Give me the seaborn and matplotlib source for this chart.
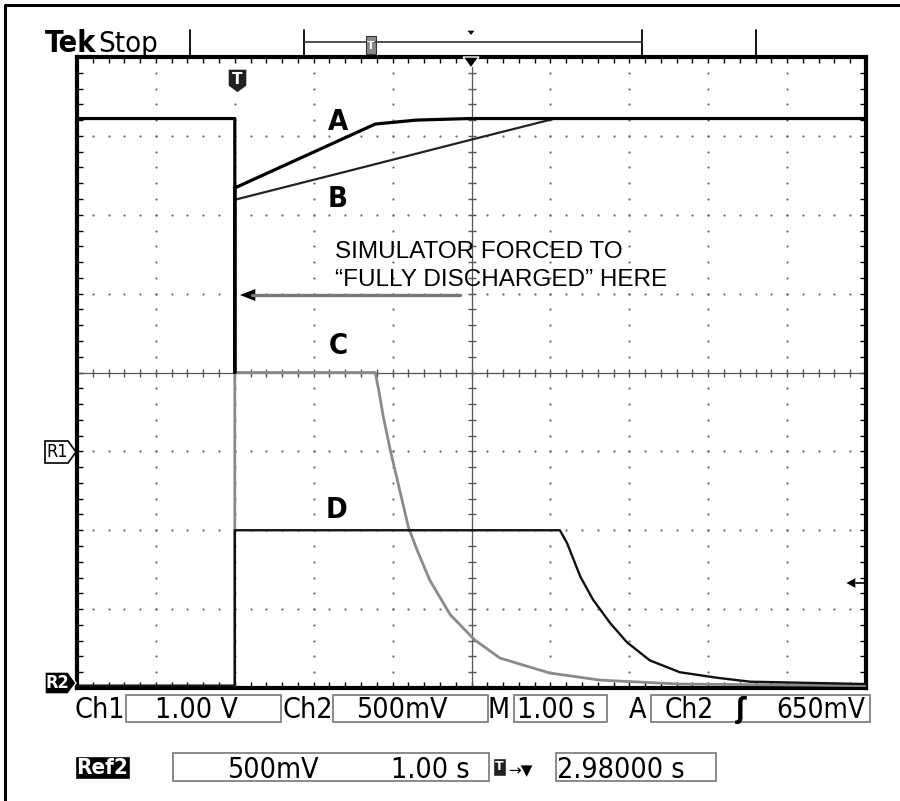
import numpy as np
import pandas as pd
import matplotlib
matplotlib.use("Agg")
import matplotlib.pyplot as plt
import seaborn as sns
from matplotlib.patches import Rectangle, Polygon

# traces, in divisions (10 across, 8 up)
a_x = [0, 2.0, 2.0, 2.0, 3.78, 4.3, 4.98, 10]
a_y = [7.22, 7.22, 4.0, 6.34, 7.15, 7.20, 7.22, 7.22]
b_x = [2.0, 3.5, 4.99, 6.06, 10]
b_y = [6.19, 6.57, 6.95, 7.22, 7.22]
c_x = [2.0, 2.0, 3.78, 3.82, 3.88, 3.97, 4.09, 4.20, 4.31, 4.47, 4.73, 5.04, 5.36, 5.99, 6.63, 7.64, 10]
c_y = [0.03, 4.0, 4.0, 3.80, 3.45, 3.02, 2.51, 2.04, 1.75, 1.37, 0.93, 0.61, 0.38, 0.19, 0.10, 0.05, 0.03]
d_x = [0, 2.0, 2.0, 6.12, 6.21, 6.38, 6.54, 6.76, 6.97, 7.26, 7.64, 8.11, 8.53, 10]
d_y = [0.03, 0.03, 2.0, 2.0, 1.84, 1.41, 1.12, 0.82, 0.58, 0.35, 0.20, 0.13, 0.08, 0.05]

trace_labels = ["A", "B", "C", "D"]
label_pos = [(338, 122), (338, 199), (338, 346), (337, 510)]

note_lines = ["SIMULATOR FORCED TO", "\u201cFULLY DISCHARGED\u201d HERE"]

readout_row1 = [("Ch1", 75, None), ("1.00 V", 155, (126, 281)), ("Ch2", 282, None),
                ("500mV", 356, (333, 488)), ("M", 487, None), ("1.00 s", 517, (514, 607)),
                ("A", 629, None)]
trig_text = [("Ch2", 665), ("\u0283", 736), ("650mV", 776)]

sns.set_style("white")
plt.rcParams["font.family"] = ["DejaVu Sans"]
plt.rcParams["text.color"] = "black"
cond = dict(fontstretch="condensed")

fig = plt.figure(figsize=(9, 8.01), dpi=100)
ax = fig.add_axes([77 / 900, 113 / 801, 789 / 900, 631 / 801])

# traces
sns.lineplot(x=c_x, y=c_y, ax=ax, sort=False, estimator=None, color="#8a8a8a", lw=2.0, zorder=3)
sns.lineplot(x=b_x, y=b_y, ax=ax, sort=False, estimator=None, color="#222222", lw=1.6, zorder=4)
sns.lineplot(x=d_x, y=d_y, ax=ax, sort=False, estimator=None, color="#111111", lw=1.7, zorder=4)
sns.lineplot(x=a_x, y=a_y, ax=ax, sort=False, estimator=None, color="#000000", lw=2.3, zorder=5)

ax.set_xlim(0, 10)
ax.set_ylim(0, 8)
ax.set_xticks(range(11))
ax.set_yticks(range(9))
ax.set_xticks(np.arange(0, 10.01, 0.2), minor=True)
ax.set_yticks(np.arange(0, 8.01, 0.2), minor=True)
ax.tick_params(which="both", direction="in", top=True, right=True, bottom=True, left=True,
               labelbottom=False, labelleft=False, length=4, width=1, color="black")
for s in ax.spines.values():
    s.set_linewidth(3)
    s.set_color("black")

# dotted graticule
fine_y = np.arange(0.2, 8, 0.2)
fine_x = np.arange(0.2, 10, 0.2)
for gx in range(1, 10):
    if gx != 5:
        ax.scatter(np.full(len(fine_y), gx), fine_y, s=2.5, color="#666666", lw=0, zorder=1)
for gy in range(1, 8):
    if gy != 4:
        ax.scatter(fine_x, np.full(len(fine_x), gy), s=2.5, color="#666666", lw=0, zorder=1)
ax.axvline(5, color="#555555", lw=0.9, zorder=1)
ax.axhline(4, color="#555555", lw=0.9, zorder=1)
ax.plot(np.full(len(fine_y), 5), fine_y, ls="none", marker="_", ms=6, mew=1, color="#555555", zorder=1)
ax.plot(fine_x, np.full(len(fine_x), 4), ls="none", marker="|", ms=6, mew=1, color="#555555", zorder=1)

# overlay in screen pixels
ov = fig.add_axes([0, 0, 1, 1], zorder=10)
ov.set_xlim(0, 900)
ov.set_ylim(801, 0)
ov.axis("off")
ov.patch.set_alpha(0)

ov.plot([5, 5, 900], [801, 5, 5], color="black", lw=2.2)

# header
ov.text(45, 52, "Tek", fontsize=22, fontweight="bold", va="baseline", **cond)
ov.text(98, 52, "Stop", fontsize=21, va="baseline", **cond)
for mx in [190, 304, 642, 756]:
    ov.plot([mx, mx], [30, 57], color="black", lw=1.3)
ov.plot([304, 642], [42, 42], color="#333333", lw=1.2)
ov.add_patch(Rectangle((366, 36), 10, 18, facecolor="#888888", edgecolor="#333333", lw=0.8))
ov.text(371, 46, "T", fontsize=8, color="white", fontweight="bold", ha="center", va="center")
ov.add_patch(Polygon([(466, 30), (476, 30), (471, 36)], facecolor="black"))
ov.add_patch(Polygon([(463, 57), (479, 57), (471, 68)], facecolor="black"))
ov.add_patch(Polygon([(228, 69), (247, 69), (247, 86), (237.5, 93), (228, 86)], facecolor="#222222"))
ov.text(237.5, 80, "T", fontsize=11, color="white", fontweight="bold", ha="center", va="center")

# reference markers
ov.add_patch(Polygon([(45, 441), (68, 441), (76, 452), (68, 463), (45, 463)],
                     facecolor="white", edgecolor="black", lw=1.2))
ov.text(57, 452, "R1", fontsize=13, ha="center", va="center", **cond)
ov.add_patch(Polygon([(45, 672), (68, 672), (76, 683), (68, 694), (45, 694)], facecolor="black"))
ov.text(57, 683, "R2", fontsize=13, color="white", fontweight="bold", ha="center", va="center", **cond)
ov.add_patch(Polygon([(845, 583), (856, 577), (856, 589)], facecolor="black"))
ov.plot([856, 864], [583, 583], color="black", lw=1.2)

# trace labels and note
for lab, (lx, ly) in zip(trace_labels, label_pos):
    ov.text(lx, ly, lab, fontsize=21, fontweight="bold", ha="center", va="center", **cond)
ov.text(335, 258, note_lines[0], fontsize=17.5, va="baseline",
        family=["Liberation Sans", "DejaVu Sans"])
ov.text(335, 286, note_lines[1], fontsize=17.5, va="baseline",
        family=["Liberation Sans", "DejaVu Sans"])
ov.plot([460, 252], [295, 295], color="#777777", lw=2.4)
ov.add_patch(Polygon([(238, 295), (256, 288), (256, 302)], facecolor="black"))

# readouts
box_kw = dict(facecolor="none", edgecolor="#777777", lw=1.2)
for txt, tx, box in readout_row1:
    if box is not None:
        ov.add_patch(Rectangle((box[0], 695), box[1] - box[0], 27, **box_kw))
    ov.text(tx, 718, txt, fontsize=20.5, va="baseline", **cond)
ov.add_patch(Rectangle((651, 695), 219, 27, **box_kw))
for txt, tx in trig_text:
    ov.text(tx, 718, txt, fontsize=20, va="baseline",
            fontweight="bold" if txt == "\u0283" else "normal", **cond)

ov.add_patch(Rectangle((75, 756), 55, 23, facecolor="black"))
ov.text(102.5, 768, "Ref2", fontsize=16, color="white", fontweight="bold",
        ha="center", va="center", **cond)
ov.add_patch(Rectangle((173, 753), 316, 28, **box_kw))
ov.text(227, 778, "500mV", fontsize=20.5, va="baseline", **cond)
ov.text(391, 778, "1.00 s", fontsize=20.5, va="baseline", **cond)
ov.add_patch(Rectangle((493, 758), 13, 18, facecolor="#222222"))
ov.text(499.5, 767, "T", fontsize=9, color="white", fontweight="bold", ha="center", va="center")
ov.text(508, 775, "\u2192\u25bc", fontsize=11, va="baseline")
ov.add_patch(Rectangle((556, 753), 160, 28, **box_kw))
ov.text(557, 778, "2.98000 s", fontsize=20.5, va="baseline", **cond)

fig.savefig("out.png", dpi=100)
